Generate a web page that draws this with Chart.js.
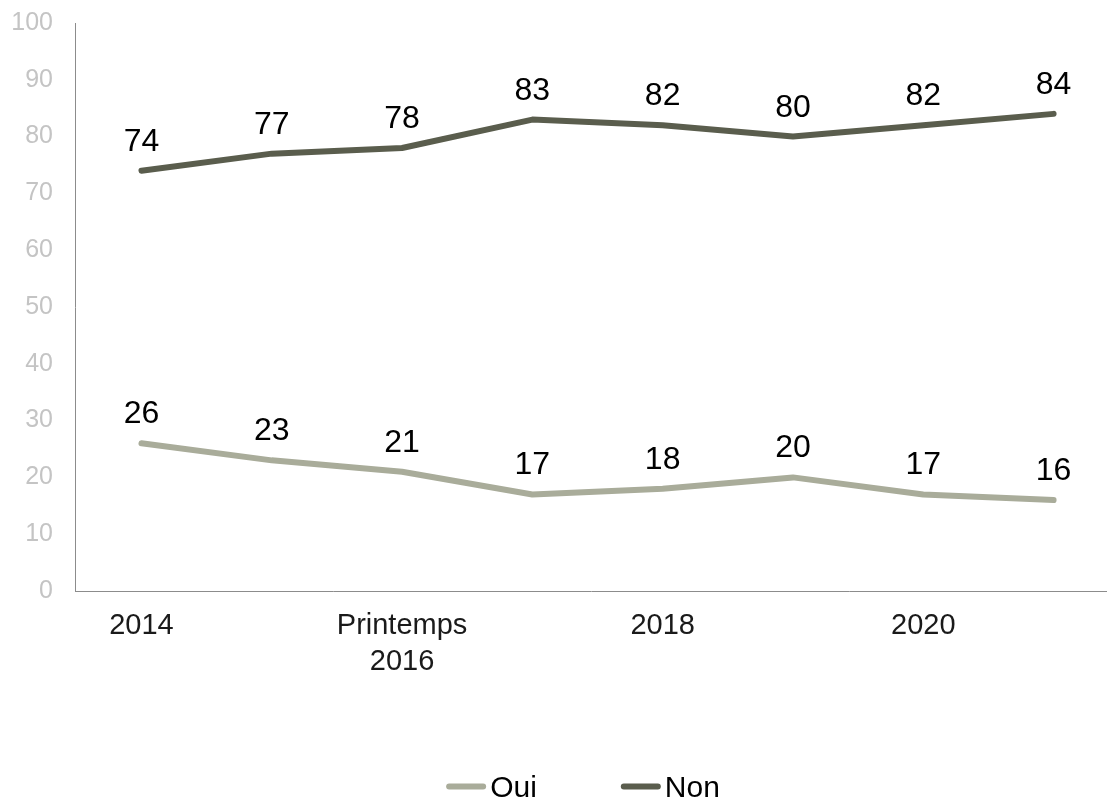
<!DOCTYPE html>
<html>
<head>
<meta charset="utf-8">
<title>Oui / Non</title>
<script src="https://cdn.jsdelivr.net/npm/chart.js@4/dist/chart.umd.min.js"></script>
<style>
  html, body { margin: 0; padding: 0; background: #ffffff; }
  #wrap { width: 1107px; height: 802px; }
</style>
</head>
<body>
<div id="wrap"><canvas id="chart" width="1107" height="802"></canvas></div>
<script>
// Survey waves (only every second one carries a printed label)
const categories = ['2014', '2015', ['Printemps', '2016'], '2017', '2018', '2019', '2020', '2021'];
const labelEvery = 2;

// Share of answers, in %
const oui = [26, 23, 21, 17, 18, 20, 17, 16];
const non = [74, 77, 78, 83, 82, 80, 82, 84];

// Value axis ticks
const yMin = 0;
const yMax = 100;
const yStep = 10;

const seriesNames = ['Oui', 'Non'];
const seriesColors = ['#a9ac9a', '#5a5d4d'];

const FONT = '"Liberation Sans", Arial, Helvetica, sans-serif';

// Numbers written above each point of each line
const valueLabels = {
  id: 'valueLabels',
  afterDatasetsDraw(chart) {
    const ctx = chart.ctx;
    ctx.save();
    ctx.font = '32px ' + FONT;
    ctx.fillStyle = '#000000';
    ctx.textAlign = 'center';
    ctx.textBaseline = 'alphabetic';
    chart.data.datasets.forEach((ds, i) => {
      const meta = chart.getDatasetMeta(i);
      meta.data.forEach((pt, j) => {
        ctx.fillText(String(ds.data[j].y), pt.x, pt.y - 20);
      });
    });
    ctx.restore();
  }
};

// Legend row under the plot: short line sample followed by the series name
const lineLegend = {
  id: 'lineLegend',
  afterDraw(chart) {
    const ctx = chart.ctx;
    const centerX = 583;
    const lineY = 786.5;
    const textY = 797;
    const sampleLen = 34;     // between the round caps
    const capPad = 3;
    const textGap = 4;
    const itemGap = 84;
    ctx.save();
    ctx.font = '30px ' + FONT;
    const items = chart.data.datasets.map(ds => {
      const tw = ctx.measureText(ds.label).width;
      return { ds, tw, w: sampleLen + 2 * capPad + textGap + tw };
    });
    const total = items.reduce((s, it) => s + it.w, 0) + itemGap * (items.length - 1);
    let x = centerX - total / 2;
    items.forEach(it => {
      ctx.strokeStyle = it.ds.borderColor;
      ctx.lineWidth = it.ds.borderWidth;
      ctx.lineCap = 'round';
      ctx.beginPath();
      ctx.moveTo(x + capPad, lineY);
      ctx.lineTo(x + capPad + sampleLen, lineY);
      ctx.stroke();
      ctx.fillStyle = '#000000';
      ctx.textAlign = 'left';
      ctx.textBaseline = 'alphabetic';
      ctx.fillText(it.ds.label, x + sampleLen + 2 * capPad + textGap, textY);
      x += it.w + itemGap;
    });
    ctx.restore();
  }
};

function makeSeries(name, values, color) {
  return {
    label: name,
    data: values.map((v, i) => ({ x: i, y: v })),
    borderColor: color,
    backgroundColor: color,
    borderWidth: 6,
    borderCapStyle: 'round',
    borderJoinStyle: 'round',
    pointRadius: 0,
    pointHoverRadius: 0,
    tension: 0,
    fill: false
  };
}

new Chart(document.getElementById('chart').getContext('2d'), {
  type: 'line',
  data: {
    datasets: [
      makeSeries(seriesNames[0], oui, seriesColors[0]),
      makeSeries(seriesNames[1], non, seriesColors[1])
    ]
  },
  options: {
    responsive: false,
    animation: false,
    devicePixelRatio: 1,
    layout: { padding: { top: 23, left: 0, right: 0, bottom: 0 } },
    plugins: {
      legend: { display: false },
      tooltip: { enabled: false }
    },
    scales: {
      x: {
        type: 'linear',
        min: -0.51,
        max: 7.41,
        grid: { display: false, drawTicks: false },
        border: { display: true, color: '#8c8c8c', width: 1 },
        afterBuildTicks(scale) {
          scale.ticks = categories.map((_, i) => ({ value: i }));
        },
        ticks: {
          autoSkip: false,
          maxRotation: 0,
          minRotation: 0,
          padding: 17,
          color: '#1a1a1a',
          font: { family: FONT, size: 29, lineHeight: '36px' },
          callback: (v) => (Number.isInteger(v) && v % labelEvery === 0 ? categories[v] : '')
        },
        afterFit(scale) { scale.height = 211; }
      },
      y: {
        min: yMin,
        max: yMax,
        grid: { display: false, drawTicks: false },
        border: { display: true, color: '#8c8c8c', width: 1 },
        ticks: {
          stepSize: yStep,
          padding: 22,
          color: '#c4c4c4',
          font: { family: FONT, size: 25 }
        },
        afterFit(scale) {
          scale.width = 75;
          // the top label only needs half its height above the plot
          scale.paddingTop = 15;
          scale.paddingBottom = 15;
        }
      }
    }
  },
  plugins: [valueLabels, lineLegend]
});
</script>
</body>
</html>
